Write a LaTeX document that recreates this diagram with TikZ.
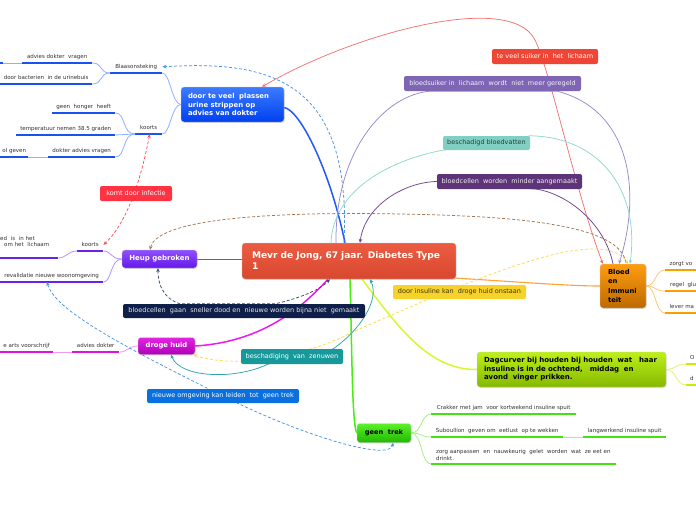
\documentclass[tikz,border=0pt]{standalone}
\usepackage{fontspec}
\setmainfont{DejaVu Sans}
\usetikzlibrary{arrows.meta,shadows}
\definecolor{cTop}{HTML}{EC5C43}\definecolor{cBot}{HTML}{D8482E}
\definecolor{pTop}{HTML}{3D7BFF}\definecolor{pBot}{HTML}{0040EE}
\definecolor{hTop}{HTML}{8F50FF}\definecolor{hBot}{HTML}{6518E6}
\definecolor{dTop}{HTML}{E324E3}\definecolor{dBot}{HTML}{AE00B8}
\definecolor{tTop}{HTML}{5AF02A}\definecolor{tBot}{HTML}{22B800}
\definecolor{gTop}{HTML}{BDF01A}\definecolor{gBot}{HTML}{86B800}
\definecolor{bTop}{HTML}{FF9C10}\definecolor{bBot}{HTML}{BE6A00}
\definecolor{ulBlue}{HTML}{1A52F2}\definecolor{lnBlue}{HTML}{8FB0FF}
\definecolor{ulPurp}{HTML}{6A22EA}\definecolor{lnPurp}{HTML}{B593FF}
\definecolor{ulMag}{HTML}{E010E0}\definecolor{lnMag}{HTML}{F29AF2}
\definecolor{ulGreen}{HTML}{44E010}\definecolor{lnGreen}{HTML}{A5F088}
\definecolor{ulOr}{HTML}{F7A000}\definecolor{lnOr}{HTML}{FFC878}
\definecolor{ulYg}{HTML}{C4F000}\definecolor{lnYg}{HTML}{E0F47A}
\definecolor{mBlue}{HTML}{2357FF}\definecolor{mPurp}{HTML}{7A45F0}
\definecolor{mMag}{HTML}{F018F0}\definecolor{mGreen}{HTML}{48EE10}
\definecolor{mYg}{HTML}{D2FA30}\definecolor{mOr}{HTML}{FFA334}
\definecolor{lRed}{HTML}{EF4535}\definecolor{lSuik}{HTML}{7E66B4}
\definecolor{lVat}{HTML}{80CFC2}\definecolor{lCel}{HTML}{5D3478}
\definecolor{lIns}{HTML}{F6D22A}\definecolor{lZen}{HTML}{17999B}
\definecolor{lSnel}{HTML}{0E1F4A}\definecolor{lOmg}{HTML}{0A70E0}
\definecolor{lInf}{HTML}{FF3342}
\definecolor{rRed}{HTML}{F27373}\definecolor{rSuik}{HTML}{9A88CC}
\definecolor{rVat}{HTML}{8ED8CC}\definecolor{rCel}{HTML}{6E4590}
\definecolor{rBrown}{HTML}{A8764E}\definecolor{rIns}{HTML}{FFD850}
\definecolor{rZen}{HTML}{30A5AC}\definecolor{rSnel}{HTML}{3A4A70}
\definecolor{rInf}{HTML}{FF4D5C}\definecolor{rOmg}{HTML}{4A94E4}
\definecolor{kidText}{HTML}{333333}
\newcommand\fsmall{\fontsize{5.5}{6.6}\selectfont}
\newcommand\flab{\fontsize{6.5}{7.5}\selectfont}
\pgfdeclarelayer{bg}\pgfsetlayers{bg,main}
\begin{document}
\begin{tikzpicture}[x=1pt,y=-1pt,
  topic/.style={rounded corners=3pt,inner sep=0pt,draw=white!80!black,line width=0.3pt,
    drop shadow={shadow xshift=0.7pt,shadow yshift=-0.9pt,opacity=0.25}},
  rel/.style={rounded corners=2pt,inner sep=0pt,font=\flab,minimum height=15pt},
  kid/.style={font=\fsmall,text=kidText,inner xsep=0pt,inner ysep=3.2pt,text depth=1.3pt,anchor=south west},
  ul/.style={line width=2.2pt},
  lk/.style={line width=0.8pt},
  mainl/.style={line width=1.5pt},
  rl/.style={line width=0.75pt},
  dsh/.style={dash pattern=on 3pt off 2pt},
  tip/.style={{Stealth[length=4pt,width=3.6pt]}-{Stealth[length=4pt,width=3.6pt]}},
  tipe/.style={-{Stealth[length=4pt,width=3.6pt]}},
  tips/.style={{Stealth[length=4pt,width=3.6pt]}-}]
\useasboundingbox (0,0) rectangle (696,520);
\clip (0,0) rectangle (696,520);

% ---------- main topics
\node[topic,top color=cTop,bottom color=cBot,minimum width=214pt,minimum height=36pt,
  text width=194pt,align=left,text=white,font=\fontsize{9.1}{11}\selectfont\bfseries]
  (cent) at (349,261) {Mevr de Jong, 67 jaar. Diabetes Type\\1};
\node[topic,top color=pTop,bottom color=pBot,minimum width=103pt,minimum height=35pt,
  text width=89pt,align=left,text=white,font=\fontsize{6.9}{8.5}\selectfont\bfseries]
  (plas) at (232.5,104.5) {door te veel\ \ plassen\\urine strippen op\\advies van dokter};
\node[topic,top color=hTop,bottom color=hBot,minimum width=75pt,minimum height=18pt,
  text=white,font=\fontsize{7}{9}\selectfont\bfseries] (heup) at (159.5,259) {Heup gebroken};
\node[topic,top color=dTop,bottom color=dBot,minimum width=57pt,minimum height=17pt,
  text=white,font=\fontsize{6.8}{9}\selectfont\bfseries] (droge) at (166.5,346) {droge huid};
\node[topic,top color=tTop,bottom color=tBot,minimum width=54pt,minimum height=19pt,
  text=black,font=\fontsize{6.6}{9}\selectfont\bfseries] (trek) at (384,433) {geen\ \ trek};
\node[topic,top color=gTop,bottom color=gBot,minimum width=189pt,minimum height=35pt,
  text width=175pt,align=left,text=black,font=\fontsize{7.0}{8.5}\selectfont\bfseries]
  (dag) at (571.5,369.5) {Dagcurver bij houden bij houden\ \ wat\ \ \ haar\\insuline is in de ochtend,\ \ \ middag\ \ en\\avond\ \ vinger prikken.};
\node[topic,top color=bTop,bottom color=bBot,minimum width=46pt,minimum height=44pt,
  text width=30pt,align=left,text=black,font=\fontsize{6.8}{9.3}\selectfont\bfseries]
  (bloed) at (623,286) {Bloed\\en\\Immuni\\teit};

% ---------- children
\node[kid,minimum width=52pt] (blaas) at (110,73) {Blaasonsteking};
\node[kid,minimum width=70pt] (adv1) at (22,63) {advies dokter\ \ vragen};
\node[kid,minimum width=92pt] (bact) at (0,84) {door bacterien\ \ in de urinebuis};
\node[kid,minimum width=27pt] (koortsA) at (135,134) {koorts};
\node[kid,minimum width=63pt] (honger) at (52,113) {geen\ \ honger\ \ heeft};
\node[kid,minimum width=99pt] (temp) at (16,135) {temperatuur nemen 38.5 graden};
\node[kid,minimum width=67pt] (dokadv) at (48,157) {dokter advies vragen};
\node[kid,minimum width=28pt] (olgev) at (0,157) {ol\ geven};
\coordinate (stubA) at (0,63); \coordinate (stubB) at (3,63);
\node[kid,minimum width=26pt] (koortsB) at (77,251) {koorts};
\node[kid,text width=58pt,align=left,text depth=14.5pt] (edis) at (0,258) {ed\ \ is\ \ in het\\\hspace*{4pt}om het\ \ lichaam};
\node[kid,minimum width=103pt] (reval) at (0,282) {revalidatie nieuwe woonomgeving};
\node[kid,minimum width=47pt] (advdok) at (72,352) {advies dokter};
\node[kid,minimum width=53pt] (arts) at (0,352) {e arts voorschrijf};
\node[kid,minimum width=145pt] (crak) at (431,414) {Crakker met jam\ \ voor kortwekend insuline spuit};
\node[kid,minimum width=132pt] (subo) at (431,437) {Suboullion\ \ geven om\ \ eetlust\ \ op te wekken};
\node[kid,minimum width=83pt] (lang) at (583,437) {langwerkend insuline spuit};
\node[kid,inner xsep=5pt,text width=175pt,align=left,text depth=6.6pt,inner ysep=3.6pt] (zorg) at (431,464) {zorg aanpassen\ \ en\ \ nauwkeurig\ \ gelet\ \ worden\ \ wat\ \ ze eet en\\drinkt.};
\node[kid,inner xsep=4pt,minimum width=10pt] (chO) at (686,364) {O};
\node[kid,inner xsep=4pt,minimum width=10pt] (chD) at (686,385) {d};
\node[kid,inner xsep=4.5pt,minimum width=31pt] (zorgt) at (665,270) {zorgt vo};
\node[kid,inner xsep=5pt,minimum width=31pt] (regel) at (665,291) {regel\ \ glu};
\node[kid,inner xsep=4.5pt,minimum width=31pt] (lever) at (665,313) {lever ma};

% ---------- relationship labels
\node[rel,fill=lRed,text=white,minimum width=106pt] (teveel) at (545,56.5) {te veel suiker in\ \ het\ \ lichaam};
\node[rel,fill=lSuik,text=white!92!lSuik,minimum width=177pt] (suik) at (492.5,83.5) {bloedsuiker in\ \ lichaam\ \ wordt\ \ niet\ \ meer geregeld};
\node[rel,fill=lVat,text=black!70!lVat,minimum width=87pt,minimum height=14pt] (vat) at (486.5,143) {beschadigd bloedvatten};
\node[rel,fill=lCel,text=white!92!lCel,minimum width=145pt] (cel) at (509.5,181.5) {bloedcellen\ \ worden\ \ minder aangemaakt};
\node[rel,fill=lIns,text=black!75!lIns,minimum width=133pt,minimum height=14pt] (ins) at (459.5,292) {door insuline kan\ \ droge huid onstaan};
\node[rel,fill=lZen,text=white,minimum width=102pt] (zen) at (292,356.5) {beschadiging\ \ van\ \ zenuwen};
\node[rel,fill=lSnel,text=white!90!lSnel,minimum width=242pt,minimum height=14pt] (snel) at (244,311) {bloedcellen\ \ gaan\ \ sneller dood en\ \ nieuwe worden bijna niet\ \ gemaakt};
\node[rel,fill=lOmg,text=white,minimum width=152pt,minimum height=14pt] (omg) at (223,396) {nieuwe omgeving kan leiden\ \ tot\ \ geen trek};
\node[rel,fill=lInf,text=white,minimum width=72pt] (inf) at (136,193.5) {komt door infectie};

\begin{pgfonlayer}{bg}
\fill[white] (0,0) rectangle (696,520);
% underlines
\foreach \n in {blaas,adv1,bact,koortsA,honger,temp,dokadv,olgev}
  \draw[ul,ulBlue] (\n.south west) -- (\n.south east);
\draw[ul,ulBlue] (stubA) -- (stubB);
\foreach \n in {koortsB,edis,reval}
  \draw[ul,ulPurp] (\n.south west) -- (\n.south east);
\foreach \n in {advdok,arts}
  \draw[ul,ulMag] (\n.south west) -- (\n.south east);
\foreach \n in {crak,subo,lang,zorg}
  \draw[ul,ulGreen] (\n.south west) -- (\n.south east);
\foreach \n in {chO,chD}
  \draw[ul,ulYg] (\n.south west) -- (\n.south east);
\foreach \n in {zorgt,regel,lever}
  \draw[ul,ulOr] (\n.south west) -- (\n.south east);

% light connectors
\draw[lk,lnBlue] (plas.west) .. controls (172,104) and (170,73) .. (blaas.south east);
\draw[lk,lnBlue] (plas.west) .. controls (172,104) and (170,134) .. (koortsA.south east);
\draw[lk,lnBlue] (blaas.south west) .. controls (99,73) and (103,63) .. (adv1.south east);
\draw[lk,lnBlue] (blaas.south west) .. controls (99,73) and (103,84) .. (bact.south east);
\draw[lk,lnBlue] (adv1.south west) -- (stubB);
\draw[lk,lnBlue] (koortsA.south west) .. controls (122,134) and (126,113) .. (honger.south east);
\draw[lk,lnBlue] (koortsA.south west) -- (temp.south east);
\draw[lk,lnBlue] (koortsA.south west) .. controls (122,134) and (126,157) .. (dokadv.south east);
\draw[lk,lnBlue] (dokadv.south west) -- (olgev.south east);
\draw[lk,lnPurp] (heup.west) .. controls (110,259) and (112,251) .. (koortsB.south east);
\draw[lk,lnPurp] (heup.west) .. controls (110,259) and (112,282) .. (reval.south east);
\draw[lk,lnPurp] (koortsB.south west) .. controls (68,251) and (66,258) .. (edis.south east);
\draw[lk,lnMag] (droge.west) .. controls (128,346) and (128,352) .. (advdok.south east);
\draw[lk,lnMag] (advdok.south west) -- (arts.south east);
\draw[lk,lnGreen] (trek.east) .. controls (422,433) and (421,414) .. (crak.south west);
\draw[lk,lnGreen] (trek.east) .. controls (422,433) and (421,437) .. (subo.south west);
\draw[lk,lnGreen] (trek.east) .. controls (422,433) and (421,464) .. (zorg.south west);
\draw[lk,lnGreen] (subo.south east) -- (lang.south west);
\draw[lk,lnOr] (bloed.east) .. controls (656,286) and (655,270) .. (zorgt.south west);
\draw[lk,lnOr] (bloed.east) .. controls (656,286) and (655,291) .. (regel.south west);
\draw[lk,lnOr] (bloed.east) .. controls (656,286) and (655,313) .. (lever.south west);
\draw[lk,lnYg] (dag.east) .. controls (676,369) and (676,364) .. (chO.south west);
\draw[lk,lnYg] (dag.east) .. controls (676,369) and (676,385) .. (chD.south west);

% main branches
\draw[mainl,mBlue] ([xshift=-4pt]cent.north) .. controls (330,170) and (300,110) .. ([yshift=-3pt]plas.east);
\draw[line width=1pt,mPurp] (heup.east) -- (heup.east -| cent.west);
\draw[mainl,mMag] ([xshift=-21pt]cent.south) .. controls (300,310) and (260,342) .. (droge.east);
\draw[mainl,mGreen] ([xshift=1pt]cent.south) .. controls (352,350) and (352,425) .. (trek.west);
\draw[mainl,mYg] ([xshift=13pt]cent.south) .. controls (400,330) and (430,370) .. (dag.west);
\draw[line width=1.1pt,mOr] ([yshift=1pt]cent.south east) .. controls (520,282) and (570,286) .. (bloed.west);

% relationship lines
\draw[rl,rOmg,dsh,tipe] ([xshift=-5pt]cent.north) .. controls (352,80) and (270,60) .. (blaas.east);
\draw[rl,rRed,tip] ([xshift=29.5pt]plas.north) .. controls (350,35) and (510,-10) .. (535,40) .. controls (550,70) and (575,190) .. ([xshift=3pt]bloed.north west);
\draw[rl,rSuik,tipe] ([xshift=-13pt]cent.north) .. controls (335,150) and (385,95) .. ([xshift=26pt]suik.south west) -- ([xshift=-24pt]suik.south east) .. controls (630,110) and (642,190) .. ([xshift=-4pt]bloed.north);
\draw[rl,rVat,tipe] ([xshift=-18pt]cent.north) .. controls (333,190) and (390,160) .. (vat.south west) -- (vat.north east) .. controls (600,137) and (640,190) .. ([xshift=7pt]bloed.north);
\draw[rl,rCel,tipe] ([xshift=-10pt]bloed.north) .. controls (605,225) and (570,195) .. ([xshift=-45pt]cel.south east) -- (cel.west) .. controls (405,182) and (365,205) .. ([xshift=11pt]cent.north);
\draw[rl,rBrown,dsh,tips] ([xshift=-9.5pt]heup.north) .. controls (158,215) and (300,212) .. (400,214) .. controls (520,216) and (622,225) .. ([xshift=3pt]bloed.north);
\draw[rl,rIns,dsh,tip] ([xshift=-2pt]droge.south east) .. controls (230,368) and (300,360) .. (357,330) .. controls (450,290) and (600,220) .. ([xshift=5pt]bloed.north);
\draw[rl,rZen,tip] ([xshift=21pt]cent.south) .. controls (380,300) and (360,330) .. ([xshift=-10pt]zen.north east) -- ([xshift=27pt]zen.south west) .. controls (235,380) and (180,378) .. ([xshift=4.5pt]droge.south);
\draw[rl,rSnel,dsh,tip] ([xshift=-1.5pt]heup.south) .. controls (158,290) and (168,300) .. ([xshift=57pt]snel.north west) -- ([xshift=-90pt]snel.north east) .. controls (300,298) and (320,290) .. ([xshift=-19pt]cent.south);
\draw[rl,rInf,dsh,tip] ([xshift=1pt]koortsA.south) .. controls (140,185) and (125,225) .. (koortsB.east);
\draw[rl,rOmg,dsh,tip] ([xshift=47pt]reval.south west) .. controls (55,310) and (120,345) .. (omg.center) .. controls (300,435) and (390,462) .. ([xshift=9pt]trek.south);
\end{pgfonlayer}
\end{tikzpicture}
\end{document}
